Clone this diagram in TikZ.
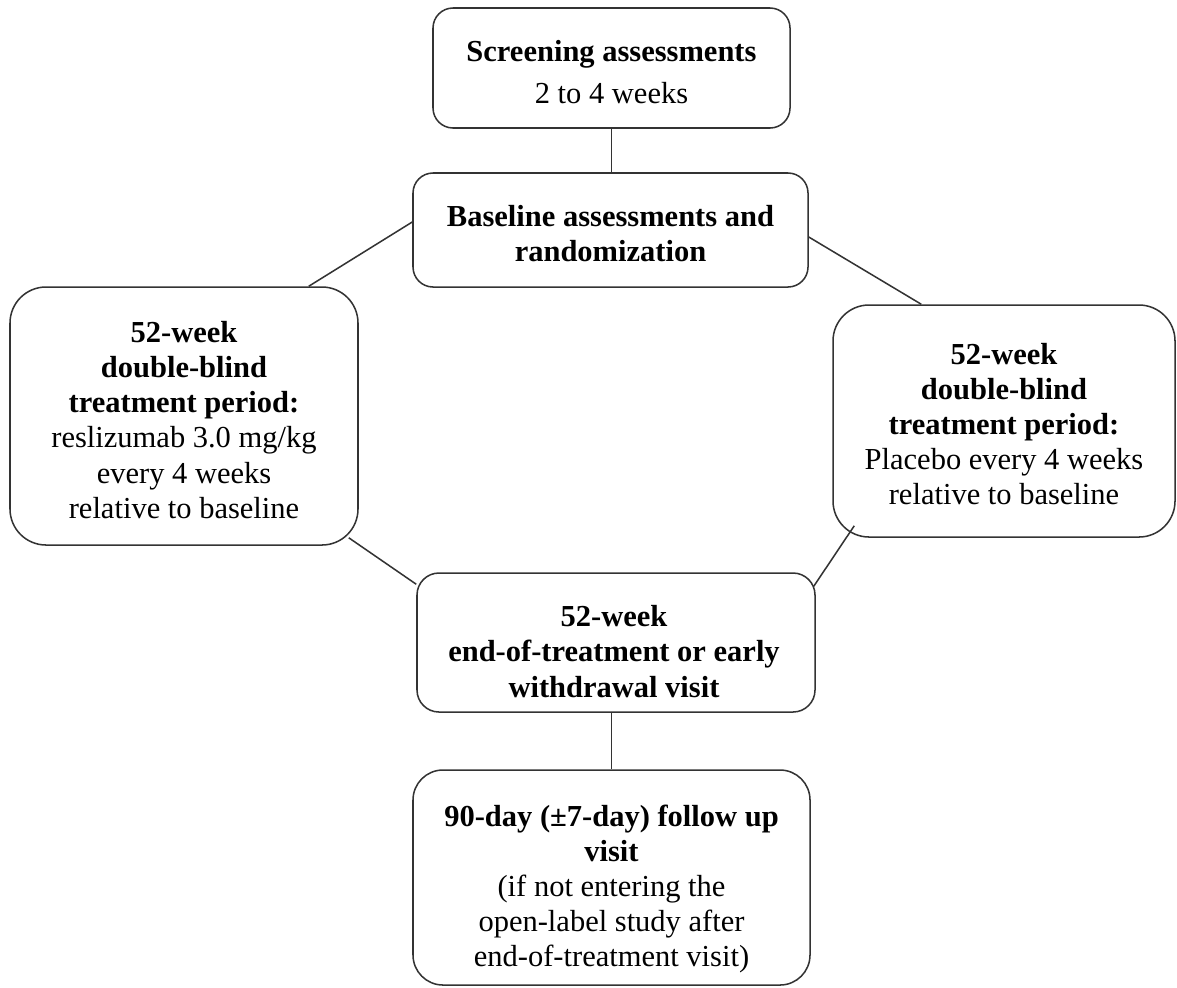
\documentclass[tikz,border=0pt]{standalone}
\usepackage{fontspec}
\setmainfont{Liberation Serif}
\usetikzlibrary{calc}
\tikzset{
  box/.style={draw=black!80, line width=0.6pt, inner sep=0pt},
  txt/.style={align=center, inner sep=0pt, font=\fontsize{12}{13.8}\selectfont},
  link/.style={draw=black!80, line width=0.6pt}
}
\begin{document}
\begin{tikzpicture}[x=0.3934pt, y=-0.3934pt]
\useasboundingbox (0,0) rectangle (1177,987);
\node[box, minimum width={357*0.3934pt}, minimum height={120*0.3934pt}, rounded corners={20*0.3934pt}] (b1) at (611.5,68) {};
\node[txt] (t1) at (611.5,72) {\textbf{Screening assessments}\\[3pt]2 to 4 weeks};
\node[box, minimum width={395*0.3934pt}, minimum height={114*0.3934pt}, rounded corners={20*0.3934pt}] (b2) at (610.5,230) {};
\node[txt] (t2) at (610.5,234) {\textbf{Baseline assessments and}\\\textbf{randomization}};
\node[box, minimum width={348*0.3934pt}, minimum height={258*0.3934pt}, rounded corners={36*0.3934pt}] (b3) at (184,416) {};
\node[txt] (t3) at (184,420) {\textbf{52-week}\\\textbf{double-blind}\\\textbf{treatment period:}\\reslizumab 3.0 mg/kg\\every 4 weeks\\relative to baseline};
\node[box, minimum width={342*0.3934pt}, minimum height={232*0.3934pt}, rounded corners={36*0.3934pt}] (b4) at (1004,421) {};
\node[txt] (t4) at (1004,424) {\textbf{52-week}\\\textbf{double-blind}\\\textbf{treatment period:}\\Placebo every 4 weeks\\relative to baseline};
\node[box, minimum width={398*0.3934pt}, minimum height={139*0.3934pt}, rounded corners={22*0.3934pt}] (b5) at (616,642.5) {};
\node[txt] (t5) at (614,651.5) {\textbf{52-week}\\\textbf{end-of-treatment or early}\\\textbf{withdrawal visit}};
\node[box, minimum width={397*0.3934pt}, minimum height={215*0.3934pt}, rounded corners={30*0.3934pt}] (b6) at (611.5,877.5) {};
\node[txt] (t6) at (611.5,889) {\textbf{90-day (±7-day) follow up}\\\textbf{visit}\\(if not entering the\\open-label study after\\end-of-treatment visit)};
\draw[link] (b1.south) -- (b1.south |- b2.north);
\draw[link] ($(b2.west)+(0,-8)$) -- ($(b3.north east)+(-50,0)$);
\draw[link] ($(b2.east)+(0,7)$) -- ($(b4.north west)+(89,0)$);
\draw[link] ($(b3.south east)+(-10,-8)$) -- ($(b5.north west)+(0,12)$);
\draw[link] ($(b4.south west)+(22,-12)$) -- ($(b5.north east)+(-2,14)$);
\draw[link] (b5.south -| b6.north) -- (b6.north);
\end{tikzpicture}
\end{document}
